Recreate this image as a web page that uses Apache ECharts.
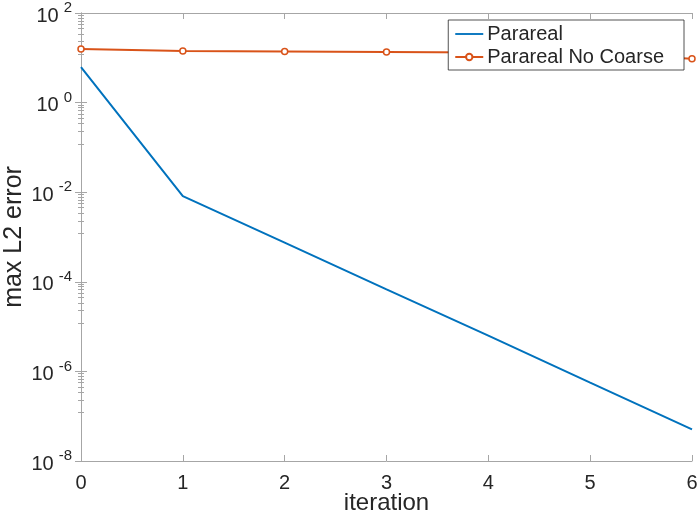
<!DOCTYPE html>
<html><head><meta charset="utf-8">
<script src="https://cdn.jsdelivr.net/npm/echarts@6/dist/echarts.min.js"></script>
<style>html,body{margin:0;padding:0;background:#fff}#c{width:698px;height:515px}</style>
</head><body><div id="c"></div>
<script>
const iterations = [0, 1, 2, 3, 4, 5, 6];
const parareal = [6.2, 0.0082, 7.5e-4, 6.8e-5, 6.3e-6, 5.6e-7, 5.1e-8];
const pararealNoCoarse = [15.8, 14.1, 13.8, 13.4, 13.1, 12.5, 9.5];
const yTickExponents = [-8, -6, -4, -2, 0, 2];

const chart = echarts.init(document.getElementById('c'));
const axisCol = '#a6a6a6';
const txt = '#262626';
const font = 'Liberation Sans, Arial, sans-serif';
const common = {
  axisLine: {show: true, lineStyle: {color: axisCol, width: 1}},
  axisTick: {show: true, inside: true, length: 6, lineStyle: {color: axisCol}},
  splitLine: {show: false}
};
chart.setOption({
  animation: false,
  grid: {left: 81, top: 13, right: 6, bottom: 54, outerBoundsMode: 'none', containLabel: false},
  legend: {
    right: 14, top: 20, orient: 'vertical', itemGap: 3,
    backgroundColor: '#fff', borderColor: '#262626', borderWidth: 0.8,
    padding: [4, 20, 3, 6], itemWidth: 28, itemHeight: 8,
    textStyle: {fontSize: 20, color: txt, fontFamily: font, padding: [0, 0, 0, -1]},
    data: [
      {name: 'Parareal', icon: 'path://M0,0 L30,0 L30,2 L0,2 Z', itemStyle: {color: '#0072BD'}},
      {name: 'Parareal No Coarse'}
    ]
  },
  xAxis: [{
    type: 'value', min: 0, max: 6, interval: 1,
    name: 'iteration', nameLocation: 'middle', nameGap: 30, nameMoveOverlap: false,
    nameTextStyle: {fontSize: 24, color: txt, fontFamily: font},
    axisLabel: {fontSize: 20, color: txt, fontFamily: font, margin: 12},
    ...common
  }, {
    type: 'value', min: 0, max: 6, interval: 1, position: 'top',
    axisLabel: {show: false}, ...common
  }],
  yAxis: [{
    type: 'log', logBase: 10, min: 1e-8, max: 1e2, interval: 2,
    name: 'max L2 error', nameLocation: 'middle', nameGap: 54, nameMoveOverlap: false,
    nameTextStyle: {fontSize: 25, color: txt, fontFamily: font},
    minorTick: {show: true, splitNumber: 9, length: 3, lineStyle: {color: axisCol}},
    axisLabel: {
      margin: 9,
      formatter: function (v) {
        const e = Math.round(Math.log10(v));
        if (yTickExponents.indexOf(e) < 0) return '';
        return '{b|10}{s|' + e + '}';
      },
      rich: {
        b: {fontSize: 20, color: txt, fontFamily: font, padding: [6, 5, 0, 0]},
        s: {fontSize: 15, color: txt, fontFamily: font, padding: [0, 0, 10, 0]}
      }
    },
    ...common
  }, {
    type: 'log', logBase: 10, min: 1e-8, max: 1e2, interval: 2, position: 'right',
    minorTick: {show: true, splitNumber: 9, length: 3, lineStyle: {color: axisCol}},
    axisLabel: {show: false}, ...common
  }],
  series: [{
    name: 'Parareal', type: 'line', color: '#0072BD',
    data: iterations.map((x, i) => [x, parareal[i]]),
    showSymbol: false, symbol: 'none', lineStyle: {width: 2}
  }, {
    name: 'Parareal No Coarse', type: 'line', color: '#D95319',
    data: iterations.map((x, i) => [x, pararealNoCoarse[i]]),
    symbol: 'circle', symbolSize: 6,
    itemStyle: {color: '#fff', borderColor: '#D95319', borderWidth: 1.5},
    lineStyle: {width: 2, color: '#D95319'}
  }]
});
</script></body></html>
